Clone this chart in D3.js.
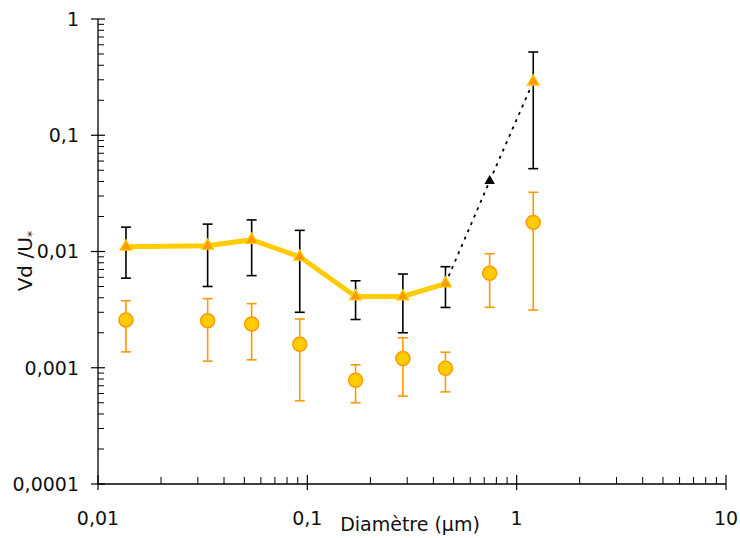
<!DOCTYPE html>
<html>
<head>
<meta charset="utf-8">
<script src="https://cdn.jsdelivr.net/npm/d3@7"></script>
<style>
  html, body { margin: 0; padding: 0; background: #fff; }
  svg { display: block; font-family: "DejaVu Sans", Verdana, sans-serif; }
</style>
</head>
<body>
<svg id="chart" width="740" height="538"></svg>
<script>
// ---- Data ----
const diameter   = [0.0136, 0.0334, 0.0542, 0.092, 0.170, 0.286, 0.457, 0.743, 1.2];
// Triangle series (yellow line, black error bars); index 7 is the black triangle
const vdTriangle = [0.0110, 0.0112, 0.0126, 0.0090, 0.0041, 0.0041, 0.0053, 0.0404, 0.289];
const triLow     = [0.0059, 0.0050, 0.0062, 0.0030, 0.0026, 0.0020, 0.0033, null, 0.0516];
const triHigh    = [0.0162, 0.0172, 0.0187, 0.0152, 0.0056, 0.0064, 0.0074, null, 0.52];
const solidCount = 7;            // points joined by the solid yellow line
const dottedIdx  = [6, 7, 8];    // points joined by the dotted black line
const blackIdx   = 7;            // black triangle
// Circle series (orange error bars)
const vdCircle   = [0.00258, 0.00254, 0.00238, 0.00159, 0.00078, 0.00120, 0.00099, 0.00649, 0.0178];
const circLow    = [0.00137, 0.00114, 0.00117, 0.00052, 0.00050, 0.00057, 0.00062, 0.00331, 0.00314];
const circHigh   = [0.00377, 0.00393, 0.00356, 0.00263, 0.00106, 0.00181, 0.00136, 0.00957, 0.0323];
// Axes
const xTickValues = [0.01, 0.1, 1, 10];
const xTickLabels = ["0,01", "0,1", "1", "10"];
const yTickValues = [0.0001, 0.001, 0.01, 0.1, 1];
const yTickLabels = ["0,0001", "0,001", "0,01", "0,1", "1"];
const xTitle = "Diamètre (µm)";
const yTitleMain = "Vd /U";
const yTitleSub = "*";

// ---- Layout ----
const svg = d3.select("#chart");
const x = d3.scaleLog().domain([0.01, 10]).range([98, 726]);
const y = d3.scaleLog().domain([0.0001, 1]).range([484, 19]);

const yellow = "#FFCC00", orange = "#FF9900";

// minor tick values
function minors(lo, hi) {
  const out = [];
  for (let e = Math.log10(lo); e < Math.log10(hi); e++) {
    for (let m = 2; m <= 9; m++) out.push(m * Math.pow(10, e));
  }
  return out;
}

// ---- Axes ----
const ax = svg.append("g").attr("stroke", "#000");
ax.append("line").attr("x1", x(0.01)).attr("x2", x(0.01))
  .attr("y1", y(1)).attr("y2", y(0.0001)).attr("stroke-width", 1.3);
ax.append("line").attr("x1", x(0.01)).attr("x2", x(10))
  .attr("y1", y(0.0001)).attr("y2", y(0.0001)).attr("stroke-width", 1.3);

ax.selectAll(".ymin").data(minors(0.0001, 1)).join("line")
  .attr("x1", x(0.01)).attr("x2", x(0.01) + 6)
  .attr("y1", d => y(d)).attr("y2", d => y(d)).attr("stroke-width", 1);
ax.selectAll(".ymaj").data(yTickValues).join("line")
  .attr("x1", x(0.01) - 7).attr("x2", x(0.01) + 7)
  .attr("y1", d => y(d)).attr("y2", d => y(d)).attr("stroke-width", 1.2);
ax.selectAll(".xmin").data(minors(0.01, 10)).join("line")
  .attr("x1", d => x(d)).attr("x2", d => x(d))
  .attr("y1", y(0.0001) - 7).attr("y2", y(0.0001)).attr("stroke-width", 1);
ax.selectAll(".xmaj").data(xTickValues).join("line")
  .attr("x1", d => x(d)).attr("x2", d => x(d))
  .attr("y1", y(0.0001) - 9).attr("y2", y(0.0001) + 6).attr("stroke-width", 1.2);

svg.selectAll(".ylab").data(yTickValues).join("text")
  .attr("x", 79).attr("y", d => y(d)).attr("dy", "0.36em")
  .attr("text-anchor", "end").attr("font-size", 19).attr("fill", "#111")
  .text((d, i) => yTickLabels[i]);
svg.selectAll(".xlab").data(xTickValues).join("text")
  .attr("x", d => x(d)).attr("y", 525)
  .attr("text-anchor", "middle").attr("font-size", 19).attr("fill", "#111")
  .text((d, i) => xTickLabels[i]);

svg.append("text").attr("x", 410).attr("y", 531)
  .attr("text-anchor", "middle").attr("font-size", 19).attr("fill", "#111")
  .text(xTitle);
const yt = svg.append("text")
  .attr("transform", "translate(32,261) rotate(-90)")
  .attr("text-anchor", "middle").attr("font-size", 20).attr("fill", "#111");
yt.append("tspan").text(yTitleMain);
yt.append("tspan").attr("font-size", 13).attr("dy", 4).text(yTitleSub);

// ---- Series ----
const idx = d3.range(diameter.length);

svg.append("path")
  .datum(idx.slice(0, solidCount))
  .attr("fill", "none").attr("stroke", yellow).attr("stroke-width", 5)
  .attr("stroke-linejoin", "round")
  .attr("d", d3.line().x(i => x(diameter[i])).y(i => y(vdTriangle[i])));

svg.append("path")
  .datum(dottedIdx)
  .attr("fill", "none").attr("stroke", "#000").attr("stroke-width", 1.8)
  .attr("stroke-dasharray", "3,5")
  .attr("d", d3.line().x(i => x(diameter[i])).y(i => y(vdTriangle[i])));

function errorBars(cls, lows, highs, color, width) {
  const g = svg.append("g").attr("stroke", color).attr("stroke-width", width);
  const valid = idx.filter(i => lows[i] != null && highs[i] != null);
  g.selectAll("." + cls + "v").data(valid).join("line")
    .attr("x1", i => x(diameter[i])).attr("x2", i => x(diameter[i]))
    .attr("y1", i => y(lows[i])).attr("y2", i => y(highs[i]));
  g.selectAll("." + cls + "h").data(valid).join("line")
    .attr("x1", i => x(diameter[i]) - 5).attr("x2", i => x(diameter[i]) + 5)
    .attr("y1", i => y(highs[i])).attr("y2", i => y(highs[i]));
  g.selectAll("." + cls + "l").data(valid).join("line")
    .attr("x1", i => x(diameter[i]) - 5).attr("x2", i => x(diameter[i]) + 5)
    .attr("y1", i => y(lows[i])).attr("y2", i => y(lows[i]));
}

errorBars("cerr", circLow, circHigh, orange, 1.6);
errorBars("terr", triLow, triHigh, "#000", 1.6);

svg.selectAll(".circ").data(idx).join("circle")
  .attr("cx", i => x(diameter[i])).attr("cy", i => y(vdCircle[i]))
  .attr("r", 7).attr("fill", yellow).attr("stroke", orange).attr("stroke-width", 1.5);

const tri = d3.symbol().type(d3.symbolTriangle);
svg.selectAll(".tri").data(idx.filter(i => i !== blackIdx)).join("path")
  .attr("transform", i => `translate(${x(diameter[i])},${y(vdTriangle[i])})`)
  .attr("d", tri.size(62)())
  .attr("fill", orange).attr("stroke", yellow).attr("stroke-width", 1.2);
svg.append("path")
  .datum(blackIdx)
  .attr("transform", i => `translate(${x(diameter[i])},${y(vdTriangle[i])})`)
  .attr("d", d3.symbol().type(d3.symbolTriangle).size(48)())
  .attr("fill", "#000");
</script>
</body>
</html>
